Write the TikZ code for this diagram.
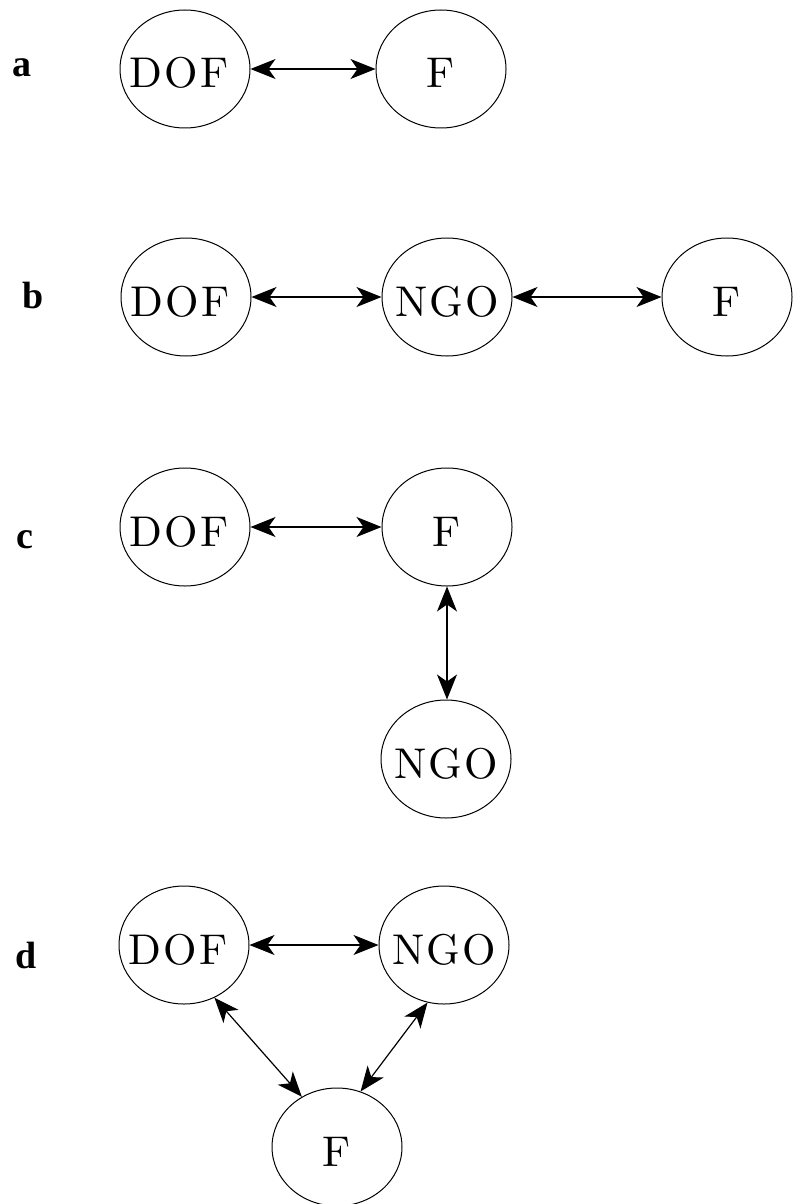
\documentclass[tikz,border=0pt]{standalone}
\usepackage{fontspec}
\newfontfamily\labelfont{Liberation Serif}
\newfontfamily\nodefont{lmroman10-regular.otf}[LetterSpace=5]
\usetikzlibrary{shapes.geometric,arrows.meta}
% centred text that does not widen the ellipse
\newcommand{\tag}[1]{\makebox[0pt]{#1}}
\begin{document}
\begin{tikzpicture}[x=1pt,y=-1pt,
  actor/.style={draw,ellipse,line width=1pt,inner sep=0pt,
    minimum width=130pt,minimum height=118pt,
    font=\nodefont\fontsize{43}{50}\selectfont,text height=38pt,text depth=0pt},
  link/.style={line width=1.2pt,{Stealth[length=25pt,width=20pt,inset=7pt]}-{Stealth[length=25pt,width=20pt,inset=7pt]}},
  panel/.style={anchor=base,font=\labelfont\bfseries\fontsize{38}{46}\selectfont}]
\useasboundingbox (0,0) rectangle (795,1204);

% panel a
\node[panel] (la) at (22,77) {a};
\node[actor] (dofa) at (185,69) {\tag{DOF\hspace{12pt}}};
\node[actor] (fa) at (441,69) {\tag{F}};
\draw[link] (dofa) -- (fa);

% panel b
\node[panel] (lb) at (33,308) {b};
\node[actor] (dofb) at (186,297) {\tag{DOF\hspace{12pt}}};
\node[actor] (ngob) at (447,297) {\tag{NGO}};
\node[actor] (fb) at (727,297) {\tag{F}};
\draw[link] (dofb) -- (ngob);
\draw[link] (ngob) -- (fb);

% panel c
\node[panel] (lc) at (25,548) {c};
\node[actor] (dofc) at (185,527) {\tag{DOF\hspace{12pt}}};
\node[actor] (fc) at (447,527) {\tag{F}};
\node[actor] (ngoc) at (446,759) {\tag{NGO}};
\draw[link] (fc.south) -- (fc.south |- ngoc.north);
\draw[link] (dofc) -- (fc);

% panel d
\node[panel] (ld) at (26,968) {d};
\node[actor] (dofd) at (184,945) {\tag{DOF\hspace{12pt}}};
\node[actor] (ngod) at (444,945) {\tag{NGO}};
\node[actor] (fd) at (337,1147) {\tag{F}};
\draw[link] (dofd) -- (ngod);
\draw[link] (dofd.-60) -- (fd.125);
\draw[link] (ngod.-106) -- (fd.67);
\end{tikzpicture}
\end{document}
